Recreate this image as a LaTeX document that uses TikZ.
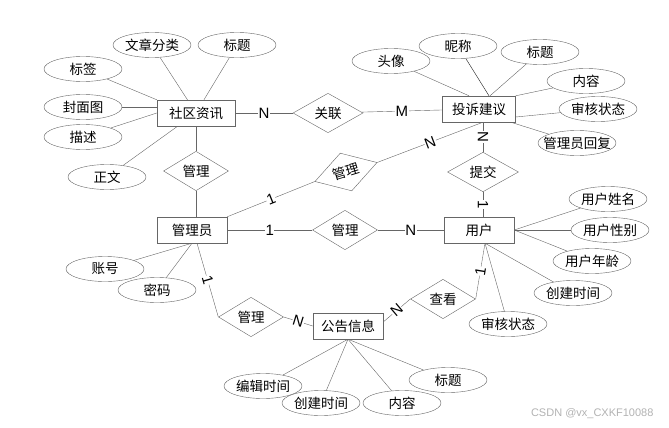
\documentclass[tikz,border=0pt]{standalone}
\usepackage{fontspec}
\setmainfont{Noto Sans CJK SC}
\newfontfamily\cardfont{Liberation Sans}
\usetikzlibrary{shapes.geometric}
\tikzset{entity/.style={draw=black!60,fill=white,rectangle,minimum width=70pt,minimum height=26pt},
    attrib/.style={draw=black!60,fill=white,ellipse,minimum width=78pt,minimum height=25pt,inner sep=0},
    relation/.style={draw=black!60,fill=white,diamond,minimum width=65pt,minimum height=39pt,inner sep=0},
    cardinal/.style={fill=white,text=black,inner sep=0.5pt,font=\cardfont\fontsize{15}{15}\selectfont},
    link/.style={black!60}
}

\begin{document}
\begin{tikzpicture}[x=1pt,y=-1pt,every node/.append style={font=\fontsize{13.5}{16}\selectfont}]
\useasboundingbox (0,0) rectangle (669,428);

% entities

\node (entNews) at (196,113) [entity,minimum width=78pt] {社区资讯};
\node (entComplaint) at (479,109) [entity,minimum width=73pt] {投诉建议};
\node (entAdmin) at (192,230) [entity] {管理员};
\node (entUser) at (479,230) [entity] {用户};
\node (entNotice) at (348,326) [entity] {公告信息};

% relations

\node (relLink) at (328,113) [relation,minimum width=70pt,minimum height=38pt] {关联};
\node (relManNews) at (196,171) [relation] {管理};
\node (relManComp) at (346,172) [relation,rotate=17] {管理};
\node (relManUser) at (345,230) [relation] {管理};
\node (relSubmit) at (483,172) [relation,minimum width=71pt,minimum height=38pt] {提交};
\node (relManNotice) at (251,317) [relation] {管理};
\node (relView) at (443,299) [relation] {查看};

% attributes of 社区资讯

\node (newsCat) at (152,45) [attrib] {文章分类};
\node (newsTitle) at (237,45) [attrib] {标题};
\node (newsTag) at (83,69) [attrib] {标签};
\node (newsCover) at (83,107) [attrib] {封面图};
\node (newsDesc) at (83,137) [attrib] {描述};
\node (newsBody) at (107,177) [attrib] {正文};

\draw [link] (newsCat) -- (entNews);
\draw [link] (newsTitle) -- (entNews);
\draw [link] (newsTag) -- (entNews.north west);
\draw [link] (newsCover) -- (newsCover -| entNews.west);
\draw [link] (newsDesc) -- (entNews.west);
\draw [link] (newsBody) -- (entNews);

% attributes of 投诉建议

\node (compAvatar) at (391,61) [attrib] {头像};
\node (compNick) at (458,46) [attrib] {昵称};
\node (compTitle) at (540,52) [attrib] {标题};
\node (compText) at (586,81) [attrib] {内容};
\node (compState) at (598,109) [attrib] {审核状态};
\node (compReply) at (577,143) [attrib] {\makebox[0pt]{管理员回复}};

\draw [link] (compAvatar) -- ([xshift=-10pt]entComplaint.north);
\draw [black!90] (compNick) -- ([xshift=10pt]entComplaint.north);
\draw [link] (compTitle) -- ([xshift=11pt]entComplaint.north);
\draw [link] (compText) -- (entComplaint.north east);
\draw [link] (compState) -- ([yshift=-8pt]entComplaint.east);
\draw [link] (compReply) -- ([xshift=-5pt]entComplaint.south east);

% attributes of 管理员

\node (adminAcc) at (105,269) [attrib] {账号};
\node (adminPwd) at (157,290) [attrib] {密码};

\draw [link] (adminAcc) -- (entAdmin.south);
\draw [link] (adminPwd) -- (entAdmin.south);

% attributes of 用户

\node (userName) at (608,199) [attrib] {用户姓名};
\node (userSex) at (610,230) [attrib] {用户性别};
\node (userAge) at (592,261) [attrib] {用户年龄};
\node (userTime) at (573,293) [attrib] {创建时间};
\node (userState) at (508,324) [attrib] {审核状态};

\draw [link] (userName) -- (entUser.east);
\draw [link] (userSex) -- (entUser.east);
\draw [link] (userAge) -- (entUser.east);
\draw [link] (userTime) -- ([xshift=6pt]entUser.south);
\draw [link] (userState) -- ([xshift=6pt]entUser.south);

% attributes of 公告信息

\node (noteEdit) at (263,386) [attrib] {编辑时间};
\node (noteTime) at (321,403) [attrib] {创建时间};
\node (noteText) at (402,403) [attrib] {内容};
\node (noteTitle) at (448,380) [attrib] {标题};

\draw [link] (noteEdit) -- (entNotice.south);
\draw [link] (noteTime) -- (entNotice.south);
\draw [link] (noteText) -- (entNotice.south);
\draw [link] (noteTitle) -- (entNotice.south);

% relationships

\draw [link] (entNews) -- node [cardinal] {N} (relLink);
\draw [link] (relLink) -- node [cardinal] {M} (entComplaint);

\draw [link] (entNews.south -| relManNews.north) -- (relManNews.north);
\draw [link] (relManNews.south) -- (relManNews.south |- entAdmin.north);

\draw [link] (entAdmin.north east) -- node [cardinal,sloped] {1} (relManComp.west);
\draw [link] (relManComp.east) -- node [cardinal,sloped] {N} ([xshift=4pt]entComplaint.south);

\draw [link] (relSubmit.north |- entComplaint.south) -- node [cardinal,sloped] {N} (relSubmit.north);
\draw [link] (relSubmit.south) -- node [cardinal,sloped] {1} (relSubmit.south |- entUser.north);

\draw [link] (entAdmin) -- node [cardinal] {1} (relManUser);
\draw [link] (relManUser) -- node [cardinal] {N} (entUser);

\draw [link] ([xshift=5pt]entAdmin.south) -- node [cardinal,sloped] {1} (relManNotice.west);
\draw [link] (relManNotice.east) -- node [cardinal,sloped] {N} (entNotice.west);

\draw [link] (relView.west) -- node [cardinal,sloped] {N} ([yshift=4pt]entNotice.east);
\draw [link] (relView.east) -- node [cardinal,sloped] {1} ([xshift=6pt]entUser.south);

\node (mark) at (657,414) [anchor=east,text=black!30,font=\cardfont\fontsize{11}{11}\selectfont] {CSDN @vx\_CXKF10088};

\end{tikzpicture}
\end{document}
